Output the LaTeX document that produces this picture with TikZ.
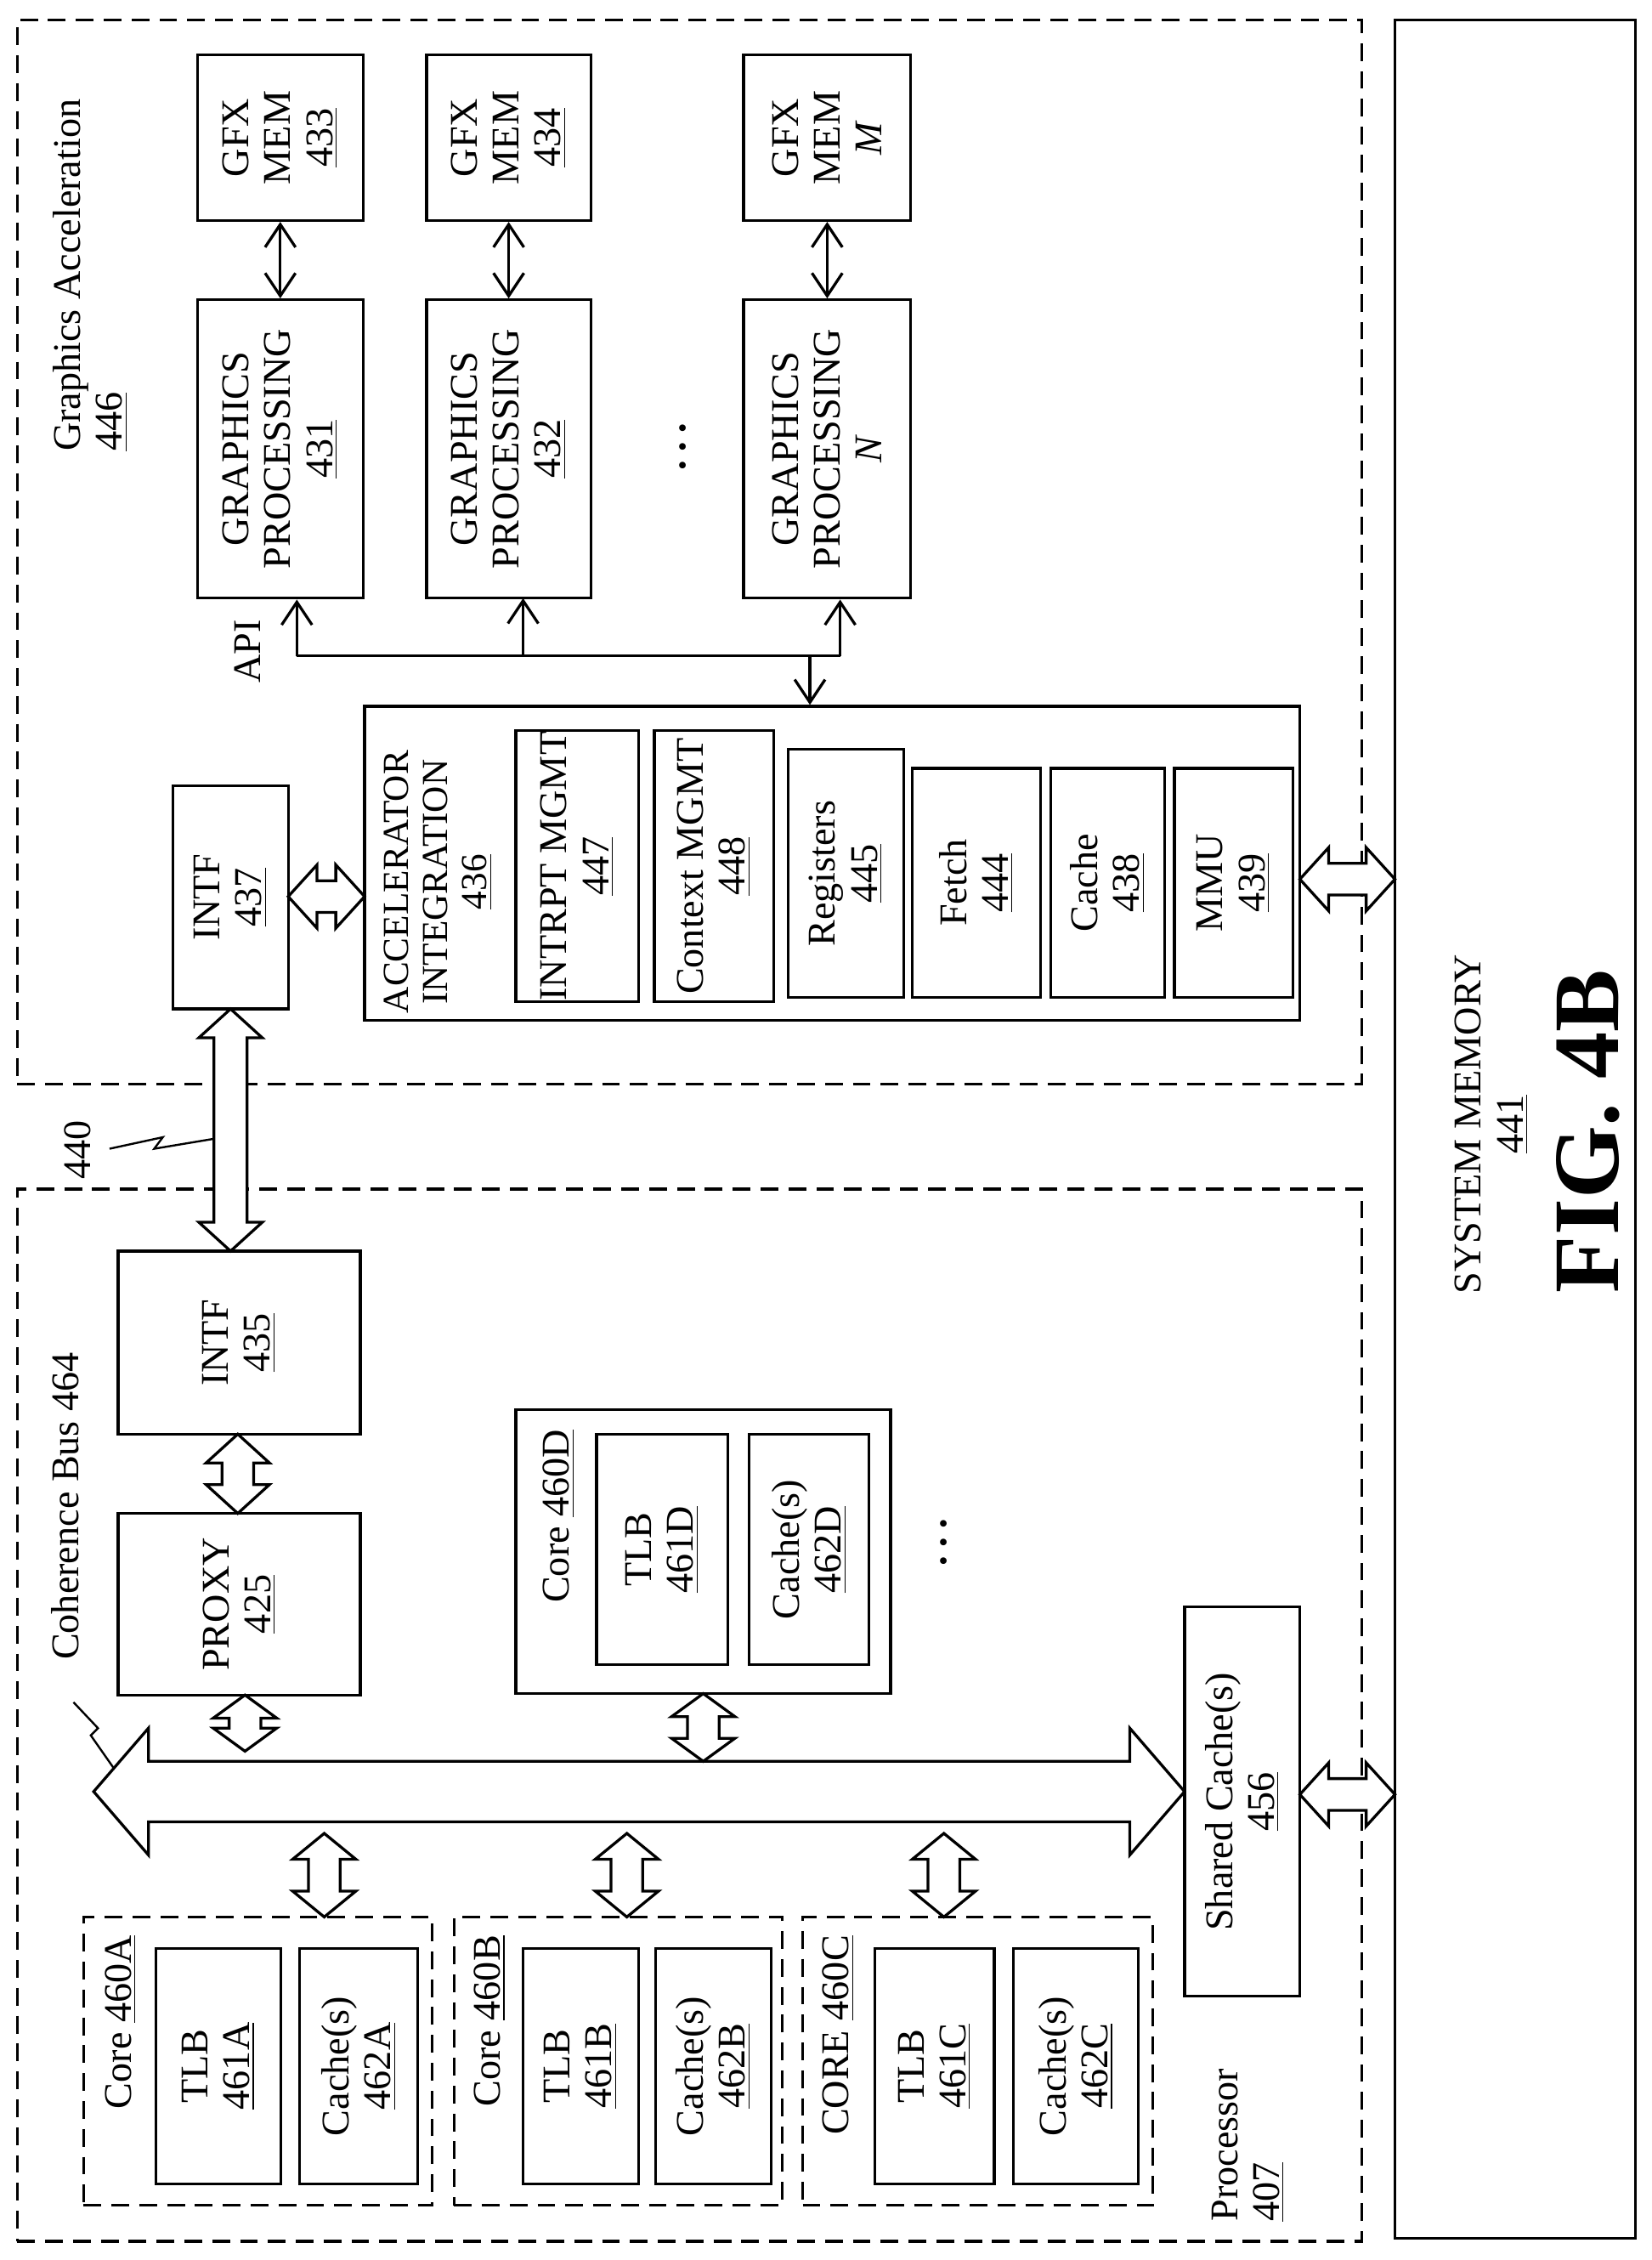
\documentclass[tikz,border=0pt]{standalone}
\usepackage{fontspec}
\setmainfont{Liberation Serif}
\usetikzlibrary{positioning, fit, arrows.meta}

% block: name, x1, y1, x2, y2, options
\newcommand{\blk}[6]{\node[draw, fit={(#2,#3)(#4,#5)}, inner sep=0pt, #6] (#1) {};}
% vertical fat arrow: x, y1, y2, shaft half, head half, head length
\newcommand{\fatv}[6]{\draw[fill=white] (#1-#4,#2+#6) -- (#1-#5,#2+#6) -- (#1,#2) -- (#1+#5,#2+#6) -- (#1+#4,#2+#6)
  -- (#1+#4,#3-#6) -- (#1+#5,#3-#6) -- (#1,#3) -- (#1-#5,#3-#6) -- (#1-#4,#3-#6) -- cycle;}
% horizontal fat arrow: y, x1, x2, shaft half, head half, head length
\newcommand{\fath}[6]{\draw[fill=white] (#2+#6,#1-#4) -- (#2+#6,#1-#5) -- (#2,#1) -- (#2+#6,#1+#5) -- (#2+#6,#1+#4)
  -- (#3-#6,#1+#4) -- (#3-#6,#1+#5) -- (#3,#1) -- (#3-#6,#1-#5) -- (#3-#6,#1-#4) -- cycle;}

\begin{document}
\begin{tikzpicture}[x=0.02cm, y=-0.02cm, line width=1.1pt,
    every node/.style={font=\fontsize{15.5}{16.5}\selectfont},
    lbl/.style={rotate=90, align=center},
    dbox/.style={dash pattern=on 7pt off 4pt},
    thin arrow/.style={{Straight Barb[length=9pt,width=12pt]}-{Straight Barb[length=9pt,width=12pt]}},
    one arrow/.style={-{Straight Barb[length=9pt,width=12pt]}}]
    \useasboundingbox (0,0) rectangle (1146,1568);

    % outer areas
    \blk{gfxacc}{12}{14}{945}{752}{dbox}
    \blk{sysmem}{968}{14}{1135}{1553}{}
    \blk{proc}{12}{825}{945}{1555}{dbox}
    \node[lbl, align=left, anchor=north east] at (30,62) {Graphics Acceleration\\\underline{446}};
    \node[lbl] at (1035,780) {SYSTEM MEMORY\\\underline{441}};
    \node[rotate=90, font=\bfseries\fontsize{37}{37}\selectfont] at (1102,785) {FIG. 4B};
    \node[lbl, align=left, anchor=north west] at (834,1548) {Processor\\\underline{407}};

    % graphics memories and processing engines
    \blk{mem433}{137}{38}{252}{153}{}
    \blk{mem434}{296}{38}{410}{153}{}
    \blk{memM}{516}{38}{632}{153}{}
    \node[lbl] at (mem433) {GFX\\MEM\\\underline{433}};
    \node[lbl] at (mem434) {GFX\\MEM\\\underline{434}};
    \node[lbl] at (memM) {GFX\\MEM\\\textit{M}};
    \blk{gp431}{137}{208}{252}{415}{}
    \blk{gp432}{296}{208}{410}{415}{}
    \blk{gpN}{516}{208}{632}{415}{}
    \node[lbl] at (gp431) {GRAPHICS\\PROCESSING\\\underline{431}};
    \node[lbl] at (gp432) {GRAPHICS\\PROCESSING\\\underline{432}};
    \node[lbl] at (gpN) {GRAPHICS\\PROCESSING\\\textit{N}};
    \node[rotate=90, font=\fontsize{22}{22}\selectfont] (gpdots) at (474,310) {\ldots};
    \draw[thin arrow] (mem433) -- (gp431);
    \draw[thin arrow] (mem434) -- (gp432);
    \draw[thin arrow] (memM) -- (gpN);

    % API bus
    \node[rotate=90] (api) at (172,452) {API};
    \coordinate (busL) at (206,455);
    \coordinate (busR) at (583,455);
    \coordinate (busD) at (562,455);
    \draw (busL) -- (busR);
    \draw[one arrow] (busL) -- (busL |- gp431.south);
    \draw[one arrow] (363,455) -- (363,415);
    \draw[one arrow] (busR) -- (busR |- gpN.south);

    % accelerator integration
    \blk{acc}{253}{490}{902}{708}{}
    \draw[one arrow] (busD) -- (busD |- acc.north);
    \node[lbl, anchor=east, font=\fontsize{14.5}{15.5}\selectfont] at (304,514) {ACCELERATOR\\INTEGRATION\\\underline{436}};
    \blk{irq}{358}{507}{443}{695}{}
    \blk{ctx}{454}{507}{537}{695}{}
    \blk{reg}{547}{520}{627}{692}{}
    \blk{fetch}{633}{533}{722}{692}{}
    \blk{cache}{729}{533}{808}{692}{}
    \blk{mmu}{815}{533}{897}{692}{}
    \node[lbl] at (irq) {INTRPT MGMT\\\underline{447}};
    \node[lbl] at (ctx) {Context MGMT\\\underline{448}};
    \node[lbl] at (reg) {Registers\\\underline{445}};
    \node[lbl] at (fetch) {Fetch\\\underline{444}};
    \node[lbl] at (cache) {Cache\\\underline{438}};
    \node[lbl] at (mmu) {MMU\\\underline{439}};

    \blk{intf437}{120}{545}{200}{700}{}
    \node[lbl] at (intf437) {INTF\\\underline{437}};
    \fath{622}{200}{253}{11}{22}{20}
    \fath{610}{902}{968}{11}{22}{20}

    % link 440
    \fatv{160}{700}{868}{11.5}{22}{20}
    \node[rotate=90] (l440) at (54,798) {440};
    \draw[line width=0.8pt] (76,797) -- (113,789) -- (107,797) -- (149,790);

    % processor side
    \blk{intf435}{82}{868}{250}{995}{}
    \blk{proxy}{82}{1050}{250}{1176}{}
    \node[lbl] at (intf435) {INTF\\\underline{435}};
    \node[lbl] at (proxy) {PROXY\\\underline{425}};
    \fatv{165}{995}{1050}{11}{22}{20}
    \fatv{170}{1176}{1215}{11}{22}{16}

    \node[rotate=90] (cohlbl) at (45,1045) {Coherence Bus 464};
    \draw[line width=0.8pt] (51,1181) -- (68,1199) -- (63,1204) -- (84,1234);
    \fath{1243}{65}{822}{21}{44}{38}

    % core 460D
    \blk{coreD}{358}{978}{618}{1175}{}
    \node[lbl, anchor=north east] at (370,985) {Core \underline{460D}};
    \blk{tlbD}{414}{995}{505}{1155}{}
    \blk{cacheD}{520}{995}{603}{1155}{}
    \node[lbl] at (tlbD) {TLB\\\underline{461D}};
    \node[lbl] at (cacheD) {Cache(s)\\\underline{462D}};
    \fatv{488}{1175}{1222}{11}{22}{16}
    \node[rotate=90, font=\fontsize{22}{22}\selectfont] (coredots) at (655,1070) {\ldots};

    % shared cache
    \blk{shared}{822}{1115}{902}{1385}{}
    \node[lbl] at (shared) {Shared Cache(s)\\\underline{456}};
    \fath{1245}{902}{968}{11}{22}{20}

    % cores A, B, C
    \blk{coreA}{58}{1330}{300}{1530}{dbox}
    \blk{coreB}{315}{1330}{543}{1530}{dbox}
    \blk{coreC}{557}{1330}{800}{1530}{dbox}
    \node[lbl, anchor=north east] at (66,1336) {Core \underline{460A}};
    \node[lbl, anchor=north east] at (322,1336) {Core \underline{460B}};
    \node[lbl, anchor=north east] at (564,1336) {CORE \underline{460C}};
    \blk{tlbA}{108}{1352}{195}{1515}{}
    \blk{cacheA}{208}{1352}{290}{1515}{}
    \blk{tlbB}{363}{1352}{443}{1515}{}
    \blk{cacheB}{455}{1352}{535}{1515}{}
    \blk{tlbC}{607}{1352}{690}{1515}{}
    \blk{cacheC}{703}{1352}{790}{1515}{}
    \node[lbl] at (tlbA) {TLB\\\underline{461A}};
    \node[lbl] at (cacheA) {Cache(s)\\\underline{462A}};
    \node[lbl] at (tlbB) {TLB\\\underline{461B}};
    \node[lbl] at (cacheB) {Cache(s)\\\underline{462B}};
    \node[lbl] at (tlbC) {TLB\\\underline{461C}};
    \node[lbl] at (cacheC) {Cache(s)\\\underline{462C}};
    \fatv{225}{1272}{1330}{11}{22}{18}
    \fatv{435}{1272}{1330}{11}{22}{18}
    \fatv{655}{1272}{1330}{11}{22}{18}
\end{tikzpicture}
\end{document}
